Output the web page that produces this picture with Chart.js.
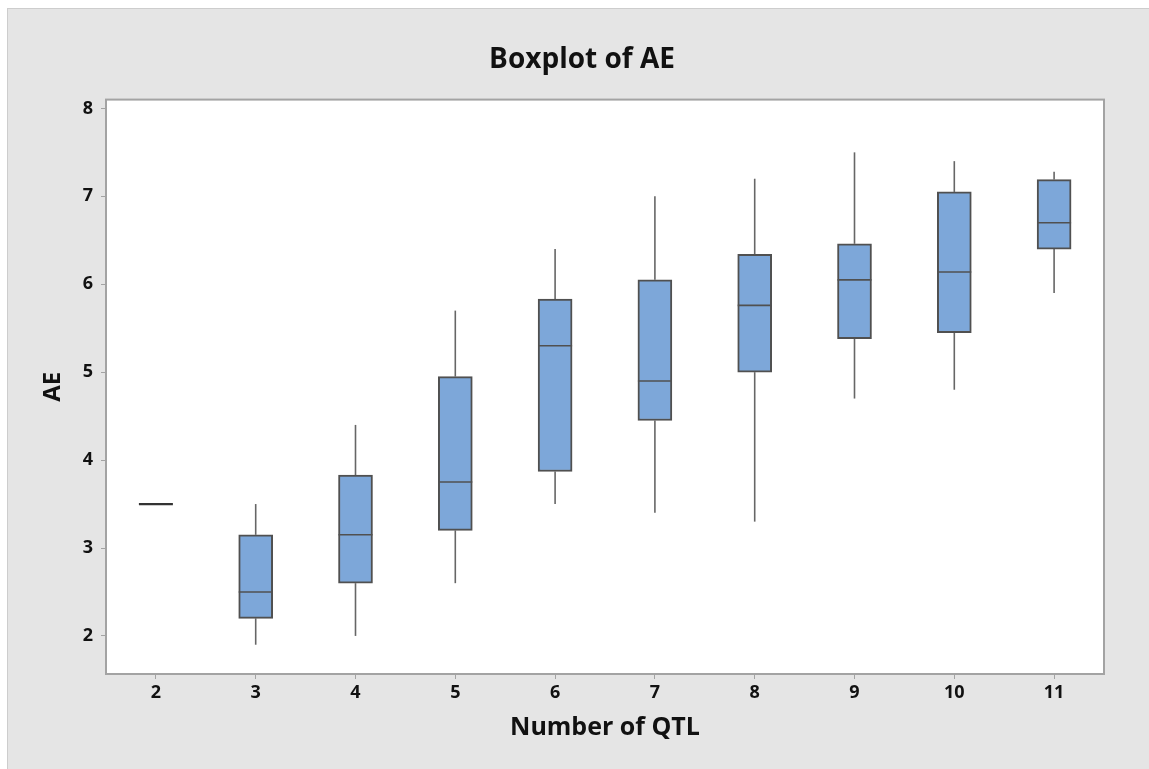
<!DOCTYPE html>
<html>
<head>
<meta charset="utf-8">
<title>Boxplot of AE</title>
<script src="https://cdn.jsdelivr.net/npm/chart.js@4.4.1/dist/chart.umd.min.js"></script>
<style>
    body {
        margin: 0;
        background: #ffffff;
    }
    #frame {
        position: absolute;
        left: 7px;
        top: 8px;
        width: 1142px;
        height: 761px;
        background: #e5e5e5;
        border-top: 1px solid #cdcdcd;
        border-left: 1px solid #cdcdcd;
    }
    #myChart {
        display: block;
    }
</style>
</head>
<body>
<div id="frame">
    <canvas id="myChart" width="1141" height="760"></canvas>
</div>
<script>
// Number of QTL categories
const categories = ['2', '3', '4', '5', '6', '7', '8', '9', '10', '11'];

// Boxplot statistics
const whiskerLow  = [3.5, 1.9, 2.0, 2.6, 3.5, 3.4, 3.3, 4.7, 4.8, 5.9];
const q1          = [3.5, 2.2, 2.6, 3.2, 3.87, 4.45, 5.0, 5.38, 5.45, 6.4];
const median      = [3.5, 2.5, 3.15, 3.75, 5.3, 4.9, 5.76, 6.05, 6.14, 6.7];
const q3          = [3.5, 3.15, 3.83, 4.95, 5.83, 6.05, 6.34, 6.46, 7.05, 7.19];
const whiskerHigh = [3.5, 3.5, 4.4, 5.7, 6.4, 7.0, 7.2, 7.5, 7.4, 7.28];

// Y axis tick labels
const yTicks = [2, 3, 4, 5, 6, 7, 8];

const fontFamily = '"Open Sans", "Noto Sans", sans-serif';
const frameColor = '#a3a3a3';
const textColor = '#111111';

// white plot area + frame on all four sides
const plotBackground = {
    id: 'plotBackground',
    beforeDraw(chart) {
        const { ctx, chartArea } = chart;
        ctx.save();
        ctx.fillStyle = '#ffffff';
        ctx.fillRect(chartArea.left, chartArea.top, chartArea.right - chartArea.left, chartArea.bottom - chartArea.top);
        ctx.restore();
    },
    afterDraw(chart) {
        const { ctx, chartArea } = chart;
        ctx.save();
        ctx.strokeStyle = frameColor;
        ctx.lineWidth = 2;
        ctx.strokeRect(chartArea.left, chartArea.top, chartArea.right - chartArea.left, chartArea.bottom - chartArea.top);
        ctx.restore();
    }
};

// whiskers (under the boxes) and medians (over the boxes)
const boxplotLines = {
    id: 'boxplotLines',
    beforeDatasetsDraw(chart) {
        const { ctx } = chart;
        const y = chart.scales.y;
        const bars = chart.getDatasetMeta(0).data;
        ctx.save();
        ctx.strokeStyle = '#666666';
        ctx.lineWidth = 1.6;
        bars.forEach((bar, i) => {
            if (whiskerHigh[i] > q3[i]) {
                ctx.beginPath();
                ctx.moveTo(bar.x, y.getPixelForValue(q3[i]));
                ctx.lineTo(bar.x, y.getPixelForValue(whiskerHigh[i]));
                ctx.stroke();
            }
            if (whiskerLow[i] < q1[i]) {
                ctx.beginPath();
                ctx.moveTo(bar.x, y.getPixelForValue(q1[i]));
                ctx.lineTo(bar.x, y.getPixelForValue(whiskerLow[i]));
                ctx.stroke();
            }
        });
        ctx.restore();
    },
    afterDatasetsDraw(chart) {
        const { ctx } = chart;
        const y = chart.scales.y;
        const bars = chart.getDatasetMeta(0).data;
        ctx.save();
        bars.forEach((bar, i) => {
            const flat = q1[i] === q3[i];
            ctx.strokeStyle = flat ? '#333333' : '#505050';
            ctx.lineWidth = flat ? 2.2 : 1.6;
            const py = y.getPixelForValue(median[i]);
            ctx.beginPath();
            ctx.moveTo(bar.x - bar.width / 2, py);
            ctx.lineTo(bar.x + bar.width / 2, py);
            ctx.stroke();
        });
        ctx.restore();
    }
};

const ctx = document.getElementById('myChart').getContext('2d');

const myChart = new Chart(ctx, {
    type: 'bar',
    data: {
        labels: categories,
        datasets: [{
            label: 'AE',
            data: categories.map((_, i) => [q1[i], q3[i]]),
            backgroundColor: '#7da7d9',
            borderColor: '#505050',
            borderWidth: 2,
            borderSkipped: false,
            barThickness: 34
        }]
    },
    options: {
        responsive: false,
        animation: false,
        layout: {
            padding: { left: 7, right: 0, top: 0, bottom: 0 }
        },
        plugins: {
            legend: { display: false },
            tooltip: { enabled: false },
            title: {
                display: true,
                text: 'Boxplot of AE',
                color: textColor,
                font: { family: fontFamily, size: 28, weight: 'bold' },
                padding: { top: 34, bottom: 23 }
            }
        },
        scales: {
            x: {
                offset: true,
                grid: {
                    offset: false,
                    drawOnChartArea: false,
                    drawTicks: true,
                    tickLength: 5,
                    color: frameColor
                },
                border: { display: true, color: frameColor, width: 2 },
                ticks: {
                    color: textColor,
                    padding: 3,
                    maxRotation: 0,
                    font: { family: fontFamily, size: 18, weight: 'bold' }
                },
                title: {
                    display: true,
                    text: 'Number of QTL',
                    color: textColor,
                    font: { family: fontFamily, size: 25, weight: 'bold' },
                    padding: { top: 0, bottom: 26 }
                },
                afterFit(scale) {
                    scale.height = 95;
                }
            },
            y: {
                min: 1.567,
                max: 8.1,
                afterBuildTicks(scale) {
                    scale.ticks = yTicks.map(v => ({ value: v }));
                },
                grid: {
                    drawOnChartArea: false,
                    drawTicks: true,
                    tickLength: 5,
                    color: frameColor
                },
                border: { display: true, color: frameColor, width: 2 },
                ticks: {
                    color: textColor,
                    padding: 8,
                    font: { family: fontFamily, size: 18, weight: 'bold' }
                },
                title: {
                    display: true,
                    text: 'AE',
                    color: textColor,
                    font: { family: fontFamily, size: 24, weight: 'bold' },
                    padding: { top: 24, bottom: 0 }
                },
                afterFit(scale) {
                    scale.width = 91;
                }
            },
            // empty right-hand axis, only keeps the gap right of the plot
            yRight: {
                position: 'right',
                min: 1.567,
                max: 8.1,
                grid: { display: false },
                border: { display: false },
                ticks: { display: false },
                afterFit(scale) {
                    scale.width = 45;
                }
            }
        }
    },
    plugins: [plotBackground, boxplotLines]
});
</script>
</body>
</html>
